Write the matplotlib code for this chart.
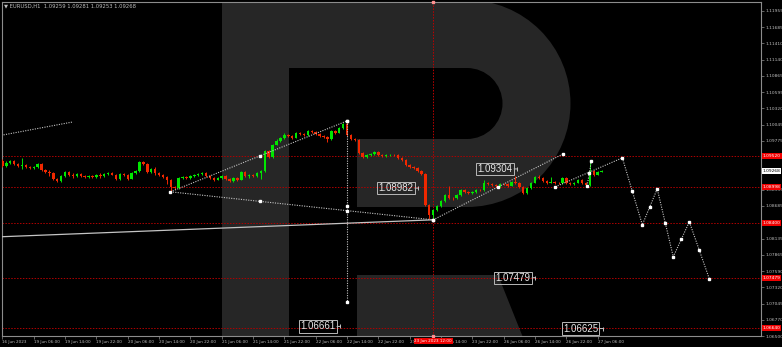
import matplotlib
matplotlib.use('Agg')
import matplotlib.pyplot as plt
from matplotlib.patches import Rectangle, Wedge, Polygon
import numpy as np

# EURUSD H1 candles, bar 0 = 16 Jun 2023 22:00
first_open = 1.09440
closes = [1.09356, 1.09406, 1.09440, 1.09389, 1.09356, 1.09372, 1.09339, 1.09322, 1.09339, 1.09389,
          1.09289, 1.09255, 1.09238, 1.09138, 1.09104, 1.09188, 1.09255, 1.09205, 1.09188, 1.09222,
          1.09188, 1.09171, 1.09188, 1.09171, 1.09205, 1.09188, 1.09222, 1.09238, 1.09205, 1.09138,
          1.09222, 1.09205, 1.09138, 1.09238, 1.09272, 1.09423, 1.09389, 1.09255, 1.09305, 1.09238,
          1.09205, 1.09171, 1.09121, 1.09004, 1.08987, 1.09155, 1.09171, 1.09155, 1.09188, 1.09205,
          1.09222, 1.09238, 1.09188, 1.09155, 1.09121, 1.09155, 1.09188, 1.09138, 1.09104, 1.09155,
          1.09121, 1.09255, 1.09188, 1.09205, 1.09188, 1.09238, 1.09272, 1.09607, 1.09507, 1.09708,
          1.09775, 1.09825, 1.09876, 1.09859, 1.09825, 1.09909, 1.09892, 1.09876, 1.09943, 1.09926,
          1.09892, 1.09859, 1.09842, 1.09809, 1.09943, 1.09909, 1.09993, 1.10060, 1.09876, 1.09809,
          1.09792, 1.09574, 1.09507, 1.09540, 1.09557, 1.09591, 1.09540, 1.09523, 1.09532, 1.09540,
          1.09532, 1.09490, 1.09456, 1.09372, 1.09339, 1.09322, 1.09272, 1.09222, 1.08702, 1.08534,
          1.08618, 1.08685, 1.08769, 1.08869, 1.08819, 1.08811, 1.08869, 1.08953, 1.08920, 1.08903,
          1.08920, 1.08953, 1.08945, 1.09071, 1.09054, 1.09037, 1.09020, 1.09054, 1.09045, 1.09020,
          1.09087, 1.09071, 1.09004, 1.08903, 1.08987, 1.09071, 1.09171, 1.09155, 1.09104, 1.09071,
          1.09087, 1.09071, 1.09062, 1.09155, 1.09071, 1.09054, 1.09071, 1.09121, 1.09071, 1.09037,
          1.09272, 1.09205, 1.09259, 1.09268]
highs = [1.09470, 1.09430, 1.09460, 1.09455, 1.09410, 1.09480, 1.09390, 1.09360, 1.09350, 1.09400,
         1.09405, 1.09310, 1.09290, 1.09250, 1.09160, 1.09200, 1.09270, 1.09275, 1.09230, 1.09240,
         1.09240, 1.09200, 1.09205, 1.09200, 1.09220, 1.09240, 1.09235, 1.09255, 1.09250, 1.09215,
         1.09235, 1.09240, 1.09215, 1.09250, 1.09290, 1.09445, 1.09440, 1.09400, 1.09320, 1.09330,
         1.09260, 1.09220, 1.09190, 1.09140, 1.09020, 1.09170, 1.09190, 1.09185, 1.09200, 1.09225,
         1.09240, 1.09255, 1.09250, 1.09200, 1.09170, 1.09170, 1.09200, 1.09200, 1.09150, 1.09170,
         1.09170, 1.09270, 1.09270, 1.09225, 1.09220, 1.09250, 1.09290, 1.09625, 1.09625, 1.09725,
         1.09800, 1.09845, 1.09900, 1.09890, 1.09870, 1.09925, 1.09925, 1.09905, 1.09960, 1.09955,
         1.09940, 1.09905, 1.09870, 1.09860, 1.09960, 1.09960, 1.10010, 1.10080, 1.10110, 1.09890,
         1.09830, 1.09800, 1.09590, 1.09560, 1.09575, 1.09610, 1.09605, 1.09560, 1.09550, 1.09555,
         1.09560, 1.09550, 1.09505, 1.09470, 1.09390, 1.09355, 1.09340, 1.09290, 1.09240, 1.08720,
         1.08640, 1.08705, 1.08790, 1.08890, 1.09020, 1.08840, 1.08885, 1.08970, 1.08965, 1.08935,
         1.08940, 1.08970, 1.08965, 1.09121, 1.09090, 1.09070, 1.09050, 1.09070, 1.09070, 1.09060,
         1.09100, 1.09188, 1.09085, 1.09015, 1.09000, 1.09085, 1.09190, 1.09200, 1.09170, 1.09120,
         1.09171, 1.09100, 1.09085, 1.09170, 1.09170, 1.09085, 1.09085, 1.09140, 1.09135, 1.09085,
         1.09440, 1.09290, 1.09275, 1.09281]
lows = [1.09330, 1.09330, 1.09390, 1.09370, 1.09340, 1.09300, 1.09320, 1.09300, 1.09305, 1.09320,
        1.09270, 1.09230, 1.09190, 1.09120, 1.09080, 1.09090, 1.09170, 1.09190, 1.09160, 1.09170,
        1.09175, 1.09150, 1.09160, 1.09160, 1.09160, 1.09150, 1.09175, 1.09210, 1.09195, 1.09120,
        1.09125, 1.09190, 1.09115, 1.09130, 1.09225, 1.09260, 1.09370, 1.09240, 1.09240, 1.09200,
        1.09185, 1.09150, 1.09050, 1.08920, 1.08960, 1.08970, 1.09140, 1.09140, 1.09140, 1.09170,
        1.09190, 1.09210, 1.09175, 1.09140, 1.09100, 1.09110, 1.09140, 1.09120, 1.09085, 1.09090,
        1.09100, 1.09110, 1.09170, 1.09150, 1.09170, 1.09175, 1.09140, 1.09260, 1.09480, 1.09490,
        1.09700, 1.09760, 1.09810, 1.09840, 1.09810, 1.09815, 1.09880, 1.09860, 1.09865, 1.09910,
        1.09880, 1.09840, 1.09825, 1.09760, 1.09795, 1.09890, 1.09900, 1.09980, 1.09860, 1.09790,
        1.09770, 1.09560, 1.09490, 1.09495, 1.09525, 1.09540, 1.09525, 1.09505, 1.09510, 1.09520,
        1.09515, 1.09470, 1.09440, 1.09355, 1.09320, 1.09300, 1.09255, 1.09200, 1.08680, 1.08467,
        1.08450, 1.08600, 1.08670, 1.08755, 1.08800, 1.08790, 1.08795, 1.08850, 1.08905, 1.08885,
        1.08890, 1.08905, 1.08930, 1.08935, 1.09040, 1.09020, 1.09000, 1.09005, 1.09030, 1.09000,
        1.09010, 1.09055, 1.08985, 1.08885, 1.08890, 1.08975, 1.09060, 1.09140, 1.09090, 1.09055,
        1.09060, 1.09055, 1.09045, 1.09050, 1.09055, 1.09040, 1.09040, 1.09060, 1.09055, 1.09020,
        1.09025, 1.09190, 1.09195, 1.09253]

time_labels = ['16 Jun 2023', '19 Jun 06:00', '19 Jun 14:00', '19 Jun 22:00', '20 Jun 06:00',
               '20 Jun 14:00', '20 Jun 22:00', '21 Jun 06:00', '21 Jun 14:00', '21 Jun 22:00',
               '22 Jun 06:00', '22 Jun 14:00', '22 Jun 22:00', '23 Jun 06:00', '23 Jun 14:00',
               '23 Jun 22:00', '26 Jun 06:00', '26 Jun 14:00', '26 Jun 22:00', '27 Jun 06:00']
# price scale labels that are not hidden under the level tags
price_ticks = [1.11955, 1.11685, 1.11410, 1.11140, 1.10865, 1.10595, 1.10320, 1.10045, 1.09775,
               1.08955, 1.08685, 1.08135, 1.07865, 1.07590, 1.07320, 1.07045, 1.06770, 1.06500]

levels = [1.09520, 1.08998, 1.08400, 1.07479, 1.06640]
current = 1.09268
cursor_bar = 110
cursor_label = '23 Jun 2023 12:00'

# drawn lines: bars, prices, bars where anchor squares sit
old_line = ([0.3, 18.1], [1.09876, 1.10094], [])
chan_up = ([42.9, 88.0], [1.08920, 1.10110], [42.9, 65.9, 88.0])
chan_down = ([42.9, 110.0], [1.08920, 1.08450], [65.9, 88.0, 110.0])
rise = ([110.0, 143.2], [1.08450, 1.09557], [110.0, 126.6, 143.2])
rise2 = ([141.2, 158.3], [1.09004, 1.09490], [141.2])
spike = ([149.3, 150.4], [1.09020, 1.09440], [149.3, 149.85, 150.4])
vert = ([88.0, 88.0], [1.10110, 1.07075], [])
support = ([-0.6, 110.0], [1.08165, 1.08450])
vert_marks = [1.10110, 1.08677, 1.07075]
fc_bars = [158.3, 163.4, 167.2, 171.3, 175.4, 180.5]
fc_prices = [1.09490, 1.08366, 1.08970, 1.07830, 1.08417, 1.07461]

# price boxes: text, bar of arrow tip, price
boxes = [('1.09304', 131.5, 1.09304), ('1.08982', 106.2, 1.08982), ('1.07479', 136.1, 1.07479),
         ('1.06661', 86.3, 1.06661), ('1.06625', 153.4, 1.06625)]

GREEN = '#00e600'
RED = '#f02800'
GREY = '#c4c4c4'
TXT = '#bdbdbd'

W, H = 782, 347
fig = plt.figure(figsize=(W / 100, H / 100), dpi=100, facecolor='black')
pos = [2 / W, 11 / H, 759 / W, 334 / H]

# watermark logo, drawn in pixel units behind the chart
bg = fig.add_axes(pos)
bg.set_xlim(2, 761)
bg.set_ylim(336, 2)
bg.axis('off')
logo = '#262626'
bg.add_patch(Rectangle((222, -5), 67, 360, color=logo, lw=0))
bg.add_patch(Rectangle((222, -5), 245, 73, color=logo, lw=0))
bg.add_patch(Rectangle((357, 139), 110.5, 68, color=logo, lw=0))
bg.add_patch(Wedge((467, 103.5), 103.5, -90, 90, width=68, color=logo, lw=0))
bg.add_patch(Polygon([(357, 275), (498, 275), (530, 355), (357, 355)], color=logo, lw=0))

ax = fig.add_axes(pos)
ax.set_facecolor('none')
ax.set_xlim(-0.1, 193.7)
ax.set_ylim(1.06505, 1.12106)

for p in levels:
    ax.axhline(p, color='#b00000', ls=(0, (1.5, 1.5)), lw=0.7, zorder=1)
ax.axvline(cursor_bar, color='#c00000', ls=(0, (1.5, 1.5)), lw=0.7, zorder=1)

# candles
c = np.array(closes)
o = np.r_[first_open, c[:-1]]
idx = np.arange(len(c))
col = np.where(c >= o, GREEN, RED)
ax.vlines(idx, lows, highs, colors=col, lw=0.7, zorder=3)
ax.bar(idx, np.maximum(np.abs(c - o), 0.00005), bottom=np.minimum(o, c), width=0.62,
       color=col, lw=0, zorder=3)

dot = dict(color=GREY, ls=(0, (1, 1.2)), lw=0.8, zorder=4)
mk = dict(ls='none', marker='s', ms=1.8, color='white', zorder=5)
for xs, ys, marks in [old_line, chan_up, chan_down, rise, rise2, spike, vert]:
    ax.plot(xs, ys, **dot)
    if marks:
        ax.plot(marks, np.interp(marks, xs, ys), **mk)
ax.plot([vert[0][0]] * len(vert_marks), vert_marks, **mk)
ax.plot(support[0], support[1], color=GREY, lw=0.9, zorder=4)
ax.plot(fc_bars, fc_prices, **dot)
ax.plot(fc_bars, fc_prices, **mk)
ax.plot(np.convolve(fc_bars, [0.5, 0.5], 'valid'), np.convolve(fc_prices, [0.5, 0.5], 'valid'), **mk)
ax.plot([cursor_bar], [1.12106], marker='s', ms=2, color='#ff9090', clip_on=False, zorder=6)
ax.plot([cursor_bar], [1.06505], marker='s', ms=2, color='#ff9090', clip_on=False, zorder=6)

for txt, b, p in boxes:
    ax.annotate(txt, xy=(b, p), xytext=(-3.5, 0), textcoords='offset points', ha='right', va='center',
                fontsize=7, family='Liberation Sans', color='#e6e6e6', zorder=7,
                bbox=dict(boxstyle='square,pad=0.12', fc='none', ec='#b8b8b8', lw=0.7),
                arrowprops=dict(arrowstyle='-', color=GREY, lw=0.7, shrinkA=0, shrinkB=0))
    ax.plot([b], [p], marker='|', ms=2.5, mew=0.7, color=GREY, zorder=7)

# axes
for s in ax.spines.values():
    s.set_color('#8c8c8c')
    s.set_linewidth(0.8)
ax.yaxis.tick_right()
ax.set_yticks(price_ticks)
ax.set_yticklabels([f'{t:.5f}' for t in price_ticks])
ax.set_xticks(np.arange(len(time_labels)) * 8)
ax.set_xticklabels(time_labels)
for lab in ax.get_xticklabels():
    lab.set_ha('left')
ax.tick_params(axis='y', labelsize=3.2, colors='#8c8c8c', labelcolor=TXT, length=2, width=0.5, pad=1)
ax.tick_params(axis='x', labelsize=3.0, colors='#8c8c8c', labelcolor=TXT, length=2, width=0.5, pad=1)

tag = dict(xycoords=('axes fraction', 'data'), xytext=(1.2, 0), textcoords='offset points',
           ha='left', va='center', fontsize=3.2, annotation_clip=False, zorder=8)
for p in levels:
    ax.annotate(f'{p:.5f}', xy=(1, p), color='white',
                bbox=dict(boxstyle='square,pad=0.2', fc='#f00000', ec='none'), **tag)
ax.annotate(f'{current:.5f}', xy=(1, current), color='black',
            bbox=dict(boxstyle='square,pad=0.2', fc='white', ec='none'), **tag)
ax.annotate(cursor_label, xy=(cursor_bar, 0), xycoords=('data', 'axes fraction'), xytext=(0, -3.6),
            textcoords='offset points', ha='center', va='center', fontsize=3.0, color='white',
            annotation_clip=False, zorder=8,
            bbox=dict(boxstyle='square,pad=0.2', fc='#f00000', ec='none'))

fig.text(4 / W, 1 - 6 / H, '\u25bc EURUSD,H1  1.09259 1.09281 1.09253 1.09268',
         fontsize=3.8, color=TXT, va='center', ha='left')

fig.savefig('out.png', dpi=100, facecolor='black')
